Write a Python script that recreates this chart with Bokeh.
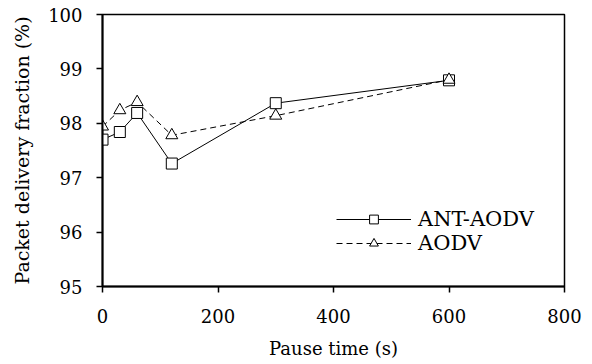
from bokeh.plotting import figure
from bokeh.models import Legend, LegendItem, Range1d, FixedTicker
from bokeh.embed import file_html
from bokeh.resources import INLINE

pause_time = [0, 30, 60, 120, 300, 600]
ant_aodv = [97.70, 97.84, 98.19, 97.26, 98.37, 98.79]
aodv = [97.94, 98.24, 98.39, 97.78, 98.14, 98.80]
x_ticks = [0, 200, 400, 600, 800]
y_ticks = [95, 96, 97, 98, 99, 100]

FONT = "DejaVu Serif"

p = figure(width=584, height=364, output_backend="svg", toolbar_location=None,
           x_range=Range1d(0, 800), y_range=Range1d(95, 100),
           min_border_left=102, min_border_right=20, min_border_top=14, min_border_bottom=78)
p.grid.visible = False
p.outline_line_color = "black"
p.outline_line_width = 1.5
p.background_fill_color = "white"
p.border_fill_color = "white"

for ax in (p.xaxis[0], p.yaxis[0]):
    ax.axis_line_width = 2
    ax.axis_line_color = "black"
    ax.major_tick_line_color = "black"
    ax.major_tick_line_width = 1.5
    ax.minor_tick_line_color = None
    ax.major_tick_in = 0
    ax.major_tick_out = 6
    ax.major_label_text_font = FONT
    ax.major_label_text_font_size = "18px"
    ax.major_label_text_color = "black"
    ax.axis_label_text_font = FONT
    ax.axis_label_text_font_style = "normal"
    ax.axis_label_text_color = "black"

p.xaxis.axis_label_text_font_size = "18px"
p.yaxis.axis_label_text_font_size = "19px"
p.xaxis.ticker = FixedTicker(ticks=x_ticks)
p.yaxis.ticker = FixedTicker(ticks=y_ticks)
p.xaxis.axis_label = "Pause time (s)"
p.yaxis.axis_label = "Packet delivery fraction (%)"
p.xaxis.major_label_standoff = 16
p.xaxis.axis_label_standoff = 12
p.yaxis.major_label_standoff = 14
p.yaxis.axis_label_standoff = 12

l1 = p.line(pause_time, ant_aodv, line_color="black", line_width=1)
s1 = p.scatter(pause_time, ant_aodv, marker="square", size=11, fill_color="white",
               line_color="black", line_width=1)
l2 = p.line(pause_time, aodv, line_color="black", line_width=1, line_dash="6 4")
s2 = p.scatter(pause_time, aodv, marker="triangle", size=12, fill_color="white",
               line_color="black", line_width=1)

legend = Legend(items=[LegendItem(label="ANT-AODV", renderers=[l1, s1]),
                       LegendItem(label="AODV", renderers=[l2, s2])],
                location=(234, 31), border_line_color=None, background_fill_alpha=0,
                glyph_width=75, glyph_height=22, label_height=22, spacing=0, padding=0,
                label_text_font=FONT, label_text_font_size="21px", label_standoff=7,
                label_text_color="black")
p.add_layout(legend)

open("out.html", "w").write(file_html(p, INLINE))
